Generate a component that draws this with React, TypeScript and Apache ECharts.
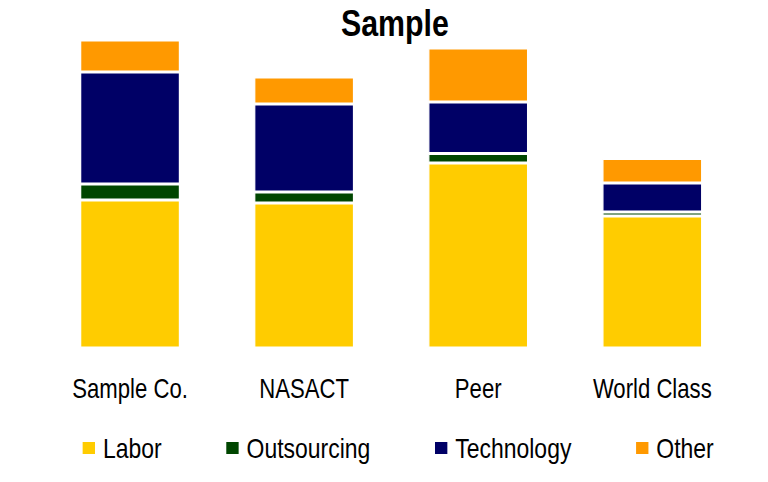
import React, { useEffect, useRef } from "react";
import * as echarts from "echarts";

const categories = ["Sample Co.", "NASACT", "Peer", "World Class"];
const labor = [74, 72.5, 92.5, 66];
const outsourcing = [8, 5.5, 4.75, 2];
const technology = [56, 44, 25.75, 14.5];
const other = [16, 13.5, 27, 12.25];

const seriesDefs = [
  { name: "Labor", data: labor, color: "#FFCC00" },
  { name: "Outsourcing", data: outsourcing, color: "#004600" },
  { name: "Technology", data: technology, color: "#000066" },
  { name: "Other", data: other, color: "#FF9900" },
];

const FONT = "'Liberation Sans', Arial, sans-serif";
// horizontal condensing factor (emulates a narrow typeface)
const SX = 0.82;
const W = 768;
const H = 482;
const sx = (v: number) => v / SX;

export default function App() {
  const ref = useRef<HTMLDivElement>(null);
  useEffect(() => {
    document.body.style.margin = "0";
    document.body.style.overflow = "hidden";
    if (!ref.current) return;
    const chart = echarts.init(ref.current, null, { renderer: "svg" });
    chart.setOption({
      animation: false,
      backgroundColor: "#ffffff",
      title: {
        text: "Sample",
        left: sx(341),
        top: 4,
        padding: 0,
        textStyle: { fontFamily: FONT, fontSize: 37, fontWeight: "bold", color: "#000" },
      },
      legend: {
        left: sx(81),
        top: 434,
        padding: 0,
        itemWidth: sx(14),
        itemHeight: 14,
        itemGap: sx(63),
        icon: "rect",
        textStyle: { fontFamily: FONT, fontSize: 28, color: "#000", padding: [0, 0, 0, sx(3)] },
        data: seriesDefs.map((s) => s.name),
      },
      grid: { left: sx(43), right: sx(29), top: 40, bottom: 134, containLabel: false },
      xAxis: {
        type: "category",
        data: categories,
        axisLine: { show: false },
        axisTick: { show: false },
        axisLabel: { fontFamily: FONT, fontSize: 27, color: "#000", margin: 27, interval: 0 },
      },
      yAxis: { type: "value", min: 0, max: 154, show: false, splitLine: { show: false } },
      series: seriesDefs.map((s) => ({
        name: s.name,
        type: "bar",
        stack: "total",
        data: s.data,
        barWidth: sx(100),
        itemStyle: { color: s.color, borderColor: "#ffffff", borderWidth: 1.5 },
      })),
    });
    return () => chart.dispose();
  }, []);
  return (
    <div style={{ width: W, height: H, overflow: "hidden", position: "relative" }}>
      <div
        ref={ref}
        style={{
          width: W / SX,
          height: H,
          transform: `scaleX(${SX})`,
          transformOrigin: "0 0",
        }}
      />
    </div>
  );
}
